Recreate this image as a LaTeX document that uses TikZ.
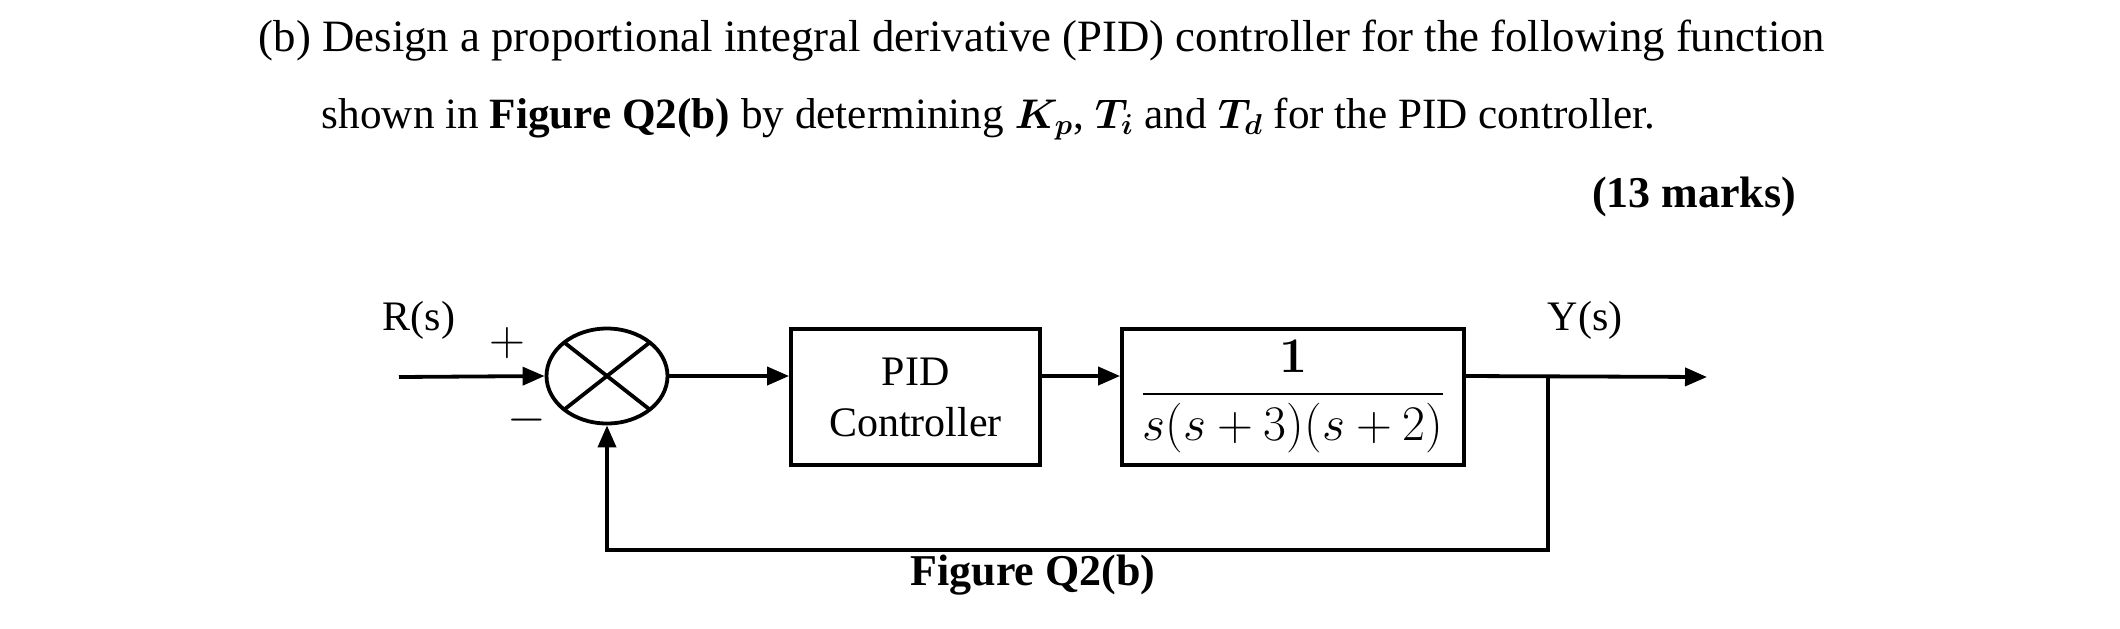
\documentclass[tikz,border=0pt]{standalone}
\usepackage{fontspec}
\usepackage{amsmath}
\usepackage{bm}
\setmainfont{Liberation Serif}
\usetikzlibrary{arrows.meta,shapes.geometric}
\begin{document}
\begin{tikzpicture}[x=0.5pt,y=-0.5pt,
  line width=1.9pt,
  blk/.style={draw,rectangle,inner sep=0pt,line width=1.9pt,align=center,
    font=\fontsize{21}{25.5}\selectfont},
  sig/.style={-{Triangle[length=11pt,width=9pt]}},
  lbl/.style={inner sep=0pt,font=\fontsize{21}{25}\selectfont},
  ttl/.style={inner sep=0pt,font=\fontsize{22.4}{26}\selectfont},
  sgn/.style={inner sep=0pt,font=\fontsize{30}{34}\selectfont}]
\useasboundingbox (0,0) rectangle (2120,628);

% question text
\node[ttl,anchor=base west] (l1) at (257,51)
  {(b) Design a proportional integral derivative (PID) controller for the following function};
\node[ttl,anchor=base west,font=\fontsize{21.6}{26}\selectfont] (l2) at (320,128)
  {shown in \textbf{Figure Q2(b)} by determining $\bm{K_p}$, $\bm{T_i}$ and $\bm{T_d}$ for the PID controller.};
\node[ttl,anchor=base east,font=\fontsize{22}{26}\selectfont\bfseries] (marks) at (1798,207) {(13 marks)};

% blocks
\node[draw,ellipse,line width=1.9pt,minimum width=60.5pt,minimum height=47.5pt,inner sep=0pt] (sum) at (607,376) {};
\draw ([shift={(-42.8,-33.6)}]sum.center) -- ([shift={(42.8,33.6)}]sum.center);
\draw ([shift={(42.8,-33.6)}]sum.center) -- ([shift={(-42.8,33.6)}]sum.center);

\node[blk,minimum width=124.5pt,minimum height=68pt] (pid) at (915.5,397) {PID\\Controller};
\node[blk,minimum width=171pt,minimum height=68pt,font=\fontsize{23.5}{28}\selectfont] (plant) at (1293,397)
  {$\genfrac{}{}{1.3pt}{0}{\bm{1}}{s(s+3)(s+2)}$};

% labels
\node[lbl] (r) at (419,320) {R(s)};
\node[lbl] (y) at (1585,320) {Y(s)};
\node[sgn] (plus) at (507,343) {$+$};
\node[sgn] (minus) at (527,420) {$-$};
\node[ttl,font=\fontsize{22}{26}\selectfont\bfseries] (fig) at (1033,575) {Figure Q2(b)};

% connectors
\coordinate (in) at (399,377);
\coordinate (out) at (1707,377);
\coordinate (br) at (1548,377);
\coordinate (fb) at (1548,550);
\draw[sig] (in) -- (sum.west);
\draw[sig] (sum.east) -- (sum.east -| pid.west);
\draw[sig] (sum.east -| pid.east) -- (sum.east -| plant.west);
\draw[sig] (sum.east -| plant.east) -- (out);
\draw[sig] (br) -- (fb) -- (fb -| sum.south) -- (sum.south);
\end{tikzpicture}
\end{document}
